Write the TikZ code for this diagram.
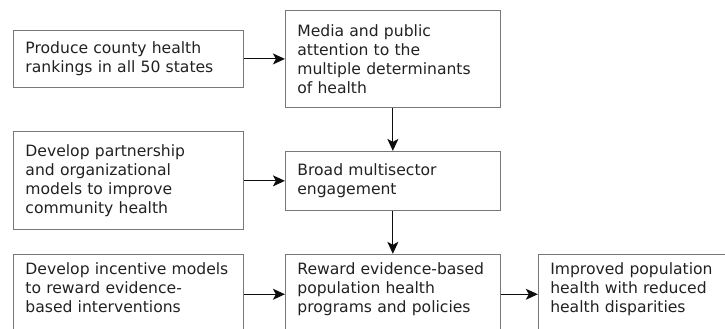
\documentclass[tikz,border=0pt]{standalone}
\usepackage{fontspec}
\setmainfont{DejaVu Sans}
\usetikzlibrary{arrows.meta, positioning}

\begin{document}
\begin{tikzpicture}
            [
                x=1pt, y=-1pt,
                every node/.style={font=\fontsize{15.6}{19}\selectfont, text=textGray},
                box/.style={draw=boxGray, line width=0.9pt, rectangle, align=left,
                    inner xsep=12pt, inner ysep=0pt},
                leftbox/.style={box, text width=206pt, minimum width=230pt},
                midbox/.style={box, text width=191pt, minimum width=215pt},
                lowbox/.style={minimum height=80pt, text depth=52pt},
                link/.style={-{Stealth[length=12pt, width=11pt, inset=3pt]}, line width=1pt, draw=arrowBlack}
            ]
            \definecolor{boxGray}{rgb}{0.47, 0.47, 0.47}
            \definecolor{textGray}{rgb}{0.13, 0.13, 0.13}
            \definecolor{arrowBlack}{rgb}{0.05, 0.05, 0.05}
            \clip (0,0) rectangle (725,329);

            % top row
            \node [leftbox, minimum height=57pt, anchor=north west] (rankings) at (13,30)
                {Produce county health\\rankings in all 50 states};
            \node [midbox, minimum height=97pt, right=41pt of rankings] (media)
                {Media and public\\attention to the\\multiple determinants\\of health};

            % middle row
            \node [midbox, minimum height=59pt, below=43pt of media] (engagement)
                {Broad multisector\\engagement};
            \node [leftbox, minimum height=98pt, left=41pt of engagement] (partnership)
                {Develop partnership\\and organizational\\models to improve\\community health};

            % bottom row
            \node [midbox, lowbox, below=43pt of engagement] (reward)
                {Reward evidence-based\\population health\\programs and policies};
            \node [leftbox, lowbox, left=41pt of reward] (incentive)
                {Develop incentive models\\to reward evidence-\\based interventions};
            \node [box, lowbox, text width=190pt, right=37pt of reward] (outcome)
                {Improved population\\health with reduced\\health disparities};

            \draw [link] (rankings) -- (media);
            \draw [link] (media) -- (engagement);
            \draw [link] (partnership) -- (engagement);
            \draw [link] (engagement) -- (reward);
            \draw [link] (incentive) -- (reward);
            \draw [link] (reward) -- (outcome);
        \end{tikzpicture}
\end{document}
